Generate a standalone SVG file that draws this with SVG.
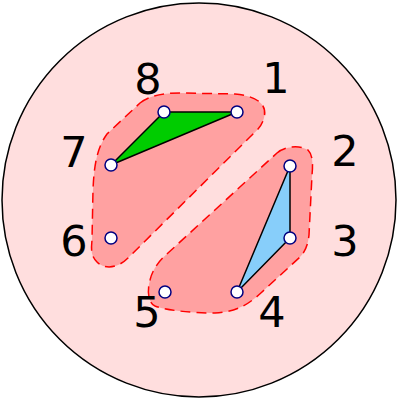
<svg xmlns="http://www.w3.org/2000/svg" width="398" height="400" viewBox="0 0 398 400">
<style>
.lbl{font-family:"DejaVu Sans",sans-serif;font-size:43px;fill:#000;text-anchor:middle}
.blob{fill:#ffa1a1;stroke:#ff0000;stroke-width:1.5;stroke-dasharray:10,6}
.node{fill:#fff;stroke:#000080;stroke-width:1.5}
.tri{stroke:#000;stroke-width:1.5;stroke-linejoin:round}
</style>
<rect width="398" height="400" fill="#fff"/>
<circle cx="199" cy="200" r="197" fill="#ffdede" stroke="#000" stroke-width="1.5"/>
<path class="blob" d="M140,103 C150,95 165,93 180,93 L235,94 C255,96 268,103 264,118 C262,125 258,130 253,134 L128,258 C118,268 105,270 97,262 C91,256 91,250 92,240 L93,190 C94,165 97,148 107,134 Z"/>
<path class="blob" d="M277,153 C285,146 300,145 308,150 C313,155 313,165 312,175 L309,235 C308,245 305,252 300,257 L262,292 C250,303 238,312 215,313 C190,313 165,310 155,306 C148,303 147,290 150,280 C153,268 160,260 168,253 Z"/>
<g id="connectors">
<polygon class="tri" points="164,112 237,112 111,165" fill="#00cc00"/>
<polygon class="tri" points="290,166 290,238 237,292" fill="#87cefa"/>
</g>
<g id="n1"><circle class="node" cx="237" cy="112" r="6"/><text class="lbl" x="276" y="93">1</text></g>
<g id="n2"><circle class="node" cx="290" cy="166" r="6"/><text class="lbl" x="345" y="166">2</text></g>
<g id="n3"><circle class="node" cx="290" cy="238" r="6"/><text class="lbl" x="345" y="256">3</text></g>
<g id="n4"><circle class="node" cx="237" cy="292" r="6"/><text class="lbl" x="272" y="327">4</text></g>
<g id="n5"><circle class="node" cx="165" cy="292" r="6"/><text class="lbl" x="147" y="327">5</text></g>
<g id="n6"><circle class="node" cx="111" cy="238" r="6"/><text class="lbl" x="74" y="256">6</text></g>
<g id="n7"><circle class="node" cx="111" cy="165" r="6"/><text class="lbl" x="74" y="167">7</text></g>
<g id="n8"><circle class="node" cx="164" cy="112" r="6"/><text class="lbl" x="148" y="94">8</text></g>
</svg>
